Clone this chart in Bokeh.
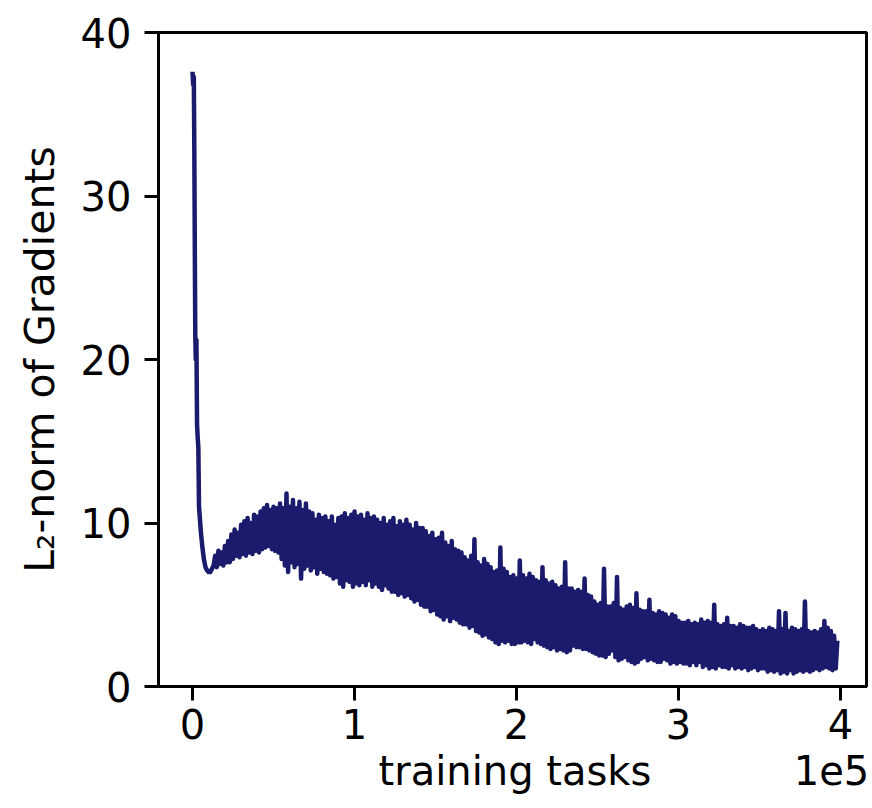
from bokeh.plotting import figure
from bokeh.models import FixedTicker, Range1d, LinearAxis, CustomJSTickFormatter
from bokeh.embed import file_html
from bokeh.resources import INLINE

# ---- data (training tasks in units of 1e5) ----
x_ticks = [0, 1, 2, 3, 4]
y_ticks = [0, 10, 20, 30, 40]
x_label = "training tasks"
x_offset_text = "1e5"
y_label = "L\u2082-norm of Gradients"

# initial drop of the gradient norm
spike_tasks = [0.0, 0.004, 0.008, 0.011, 0.014, 0.017, 0.020, 0.024, 0.028, 0.032,
               0.036, 0.040, 0.046, 0.052, 0.060, 0.070, 0.080, 0.090, 0.100, 0.110,
               0.120, 0.130]
spike_norm = [37.6, 36.8, 37.3, 33.0, 27.0, 21.5, 20.0, 21.2, 16.0, 15.2,
              14.6, 11.0, 10.2, 9.4, 8.6, 7.8, 7.3, 7.1, 7.0, 7.0,
              7.2, 7.4]

# noisy part, sampled every 0.01e5 tasks starting at 0.14e5 (one row = 0.1e5)
noisy_start = 0.14
noisy_step = 0.01
noisy_norm = [
    8.0, 7.3, 8.3, 7.5, 8.2, 7.4, 8.6, 7.6, 8.9, 7.6,
    9.3, 7.8, 9.6, 8.0, 9.4, 7.9, 9.9, 8.1, 10.1, 8.0,
    10.3, 8.2, 10.0, 8.1, 10.5, 8.3, 10.4, 8.2, 10.7, 8.4,
    10.9, 8.5, 11.1, 8.6, 10.8, 8.4, 11.0, 8.3, 10.9, 8.2,
    11.2, 7.8, 10.9, 7.4, 11.8, 7.0, 11.0, 7.6, 11.4, 7.3,
    10.9, 7.5, 11.3, 6.6, 10.8, 7.2, 11.2, 7.4, 10.7, 7.1,
    10.6, 7.3, 10.2, 6.9, 10.5, 7.2, 10.3, 7.0, 10.4, 6.9,
    10.1, 6.8, 10.4, 6.6, 9.9, 6.7, 10.3, 6.3, 10.4, 6.1,
    10.6, 6.5, 10.3, 6.4, 10.5, 6.1, 10.7, 6.3, 10.4, 6.2,
    10.5, 6.4, 10.2, 6.2, 10.6, 6.5, 10.3, 6.1, 10.4, 6.3,
    10.2, 6.1, 10.0, 5.9, 10.3, 6.2, 9.9, 6.0, 10.1, 5.8,
    10.3, 5.8, 9.8, 5.6, 10.1, 5.7, 9.9, 5.5, 10.2, 5.6,
    9.9, 5.4, 9.6, 5.2, 10.0, 5.3, 9.7, 5.0, 9.7, 4.9,
    9.5, 4.9, 9.2, 4.6, 9.4, 4.7, 9.0, 4.4, 9.1, 4.3,
    9.4, 4.1, 8.8, 4.3, 8.6, 4.0, 8.9, 4.2, 8.4, 4.1,
    8.3, 3.9, 8.2, 3.8, 7.9, 3.8, 7.7, 3.6, 8.0, 3.7,
    9.0, 3.4, 7.6, 3.3, 7.4, 3.1, 7.8, 3.2, 7.5, 3.0,
    7.3, 2.9, 7.0, 2.7, 7.1, 2.6, 8.5, 2.8, 7.2, 2.7,
    7.0, 2.8, 6.7, 2.6, 6.8, 2.6, 6.6, 2.7, 7.7, 2.7,
    6.8, 2.8, 6.6, 2.7, 6.9, 2.6, 6.7, 2.9, 6.5, 2.7,
    6.4, 2.6, 7.3, 2.5, 6.5, 2.4, 6.3, 2.3, 6.4, 2.4,
    6.2, 2.2, 6.0, 2.3, 6.1, 2.2, 7.6, 2.1, 6.0, 2.2,
    6.0, 2.5, 5.8, 2.4, 5.9, 2.4, 5.8, 2.3, 6.6, 2.3,
    5.6, 2.2, 5.5, 2.1, 5.2, 2.0, 5.0, 1.9, 5.1, 1.9,
    7.2, 1.8, 4.9, 2.0, 4.9, 2.2, 5.1, 1.8, 6.7, 1.6,
    4.8, 1.7, 4.7, 1.8, 4.9, 1.6, 5.0, 1.5, 4.8, 1.4,
    5.7, 1.5, 4.7, 1.7, 4.6, 1.8, 4.6, 1.6, 5.3, 1.7,
    4.5, 1.6, 4.4, 1.5, 4.6, 1.5, 4.5, 1.7, 4.4, 1.6,
    4.2, 1.4, 4.4, 1.5, 4.3, 1.4, 4.0, 1.5, 3.9, 1.4,
    3.9, 1.4, 4.0, 1.3, 3.8, 1.5, 3.9, 1.3, 3.8, 1.5,
    4.1, 1.2, 3.9, 1.3, 4.0, 1.1, 3.9, 1.2, 5.0, 1.1,
    3.8, 1.3, 3.7, 1.2, 3.8, 1.2, 4.2, 1.1, 3.7, 1.3,
    3.7, 1.1, 3.6, 1.2, 3.8, 1.1, 3.7, 1.2, 3.6, 1.0,
    3.6, 1.1, 3.7, 1.2, 3.5, 1.0, 3.4, 1.1, 3.5, 1.1,
    3.4, 0.9, 3.6, 1.0, 3.5, 0.9, 3.4, 1.0, 4.6, 0.8,
    3.5, 0.9, 4.5, 0.8, 3.4, 1.0, 3.6, 0.8, 3.5, 0.9,
    3.4, 1.0, 3.5, 0.9, 5.2, 1.0, 3.4, 0.9, 3.3, 1.0,
    3.4, 1.1, 3.3, 1.0, 3.5, 1.1, 4.0, 1.2, 3.6, 1.1,
    3.4, 1.0, 3.1, 1.1, 2.8,
]

noisy_tasks = [round(noisy_start + i * noisy_step, 3) for i in range(len(noisy_norm))]
tasks = spike_tasks + noisy_tasks
norms = spike_norm + noisy_norm

# positions (in 1e5 units) of the bottom texts
x_label_pos = 1.99
offset_text_pos = 3.944

FONT = "DejaVu Sans"
LINE_COLOR = "#1b1b6d"

p = figure(width=872, height=808, output_backend="svg", toolbar_location=None,
           x_range=Range1d(-0.21, 4.16), y_range=Range1d(0, 40),
           min_border_left=158, min_border_right=6, min_border_top=32,
           min_border_bottom=122)

p.line(tasks, norms, line_color=LINE_COLOR, line_width=4.5, line_join="round")

p.grid.visible = False
p.outline_line_color = "black"
p.outline_line_width = 3
p.outline_line_alpha = 1
p.background_fill_color = "white"
p.border_fill_color = "white"

for ax in (p.xaxis[0], p.yaxis[0]):
    ax.axis_line_width = 3
    ax.axis_line_color = "black"
    ax.major_tick_line_width = 3
    ax.major_tick_line_color = "black"
    ax.major_tick_out = 14
    ax.major_tick_in = 0
    ax.minor_tick_out = 0
    ax.minor_tick_in = 0
    ax.major_label_text_font = FONT
    ax.major_label_text_font_size = "40px"
    ax.major_label_text_color = "black"
    ax.axis_label_text_font = FONT
    ax.axis_label_text_font_size = "41px"
    ax.axis_label_text_font_style = "normal"
    ax.axis_label_text_color = "black"

p.xaxis.ticker = FixedTicker(ticks=x_ticks)
p.yaxis.ticker = FixedTicker(ticks=y_ticks)
p.xaxis.major_label_standoff = 8
p.yaxis.major_label_standoff = 13
p.yaxis.axis_label = y_label
p.yaxis.axis_label_standoff = 14

# second, invisible axis below carrying the x label and the offset text
text_axis = LinearAxis(
    ticker=FixedTicker(ticks=[x_label_pos, offset_text_pos]),
    formatter=CustomJSTickFormatter(
        args=dict(lab=x_label, off=x_offset_text),
        code="return tick < 3 ? lab : off;"),
    axis_line_color=None, major_tick_line_color=None, minor_tick_line_color=None,
    major_tick_out=0, major_tick_in=0, minor_tick_out=0, minor_tick_in=0,
    major_label_standoff=6, major_label_text_font=FONT,
    major_label_text_font_size="40px", major_label_text_color="black")
p.add_layout(text_axis, "below")

open("out.html", "w").write(file_html(p, INLINE))
